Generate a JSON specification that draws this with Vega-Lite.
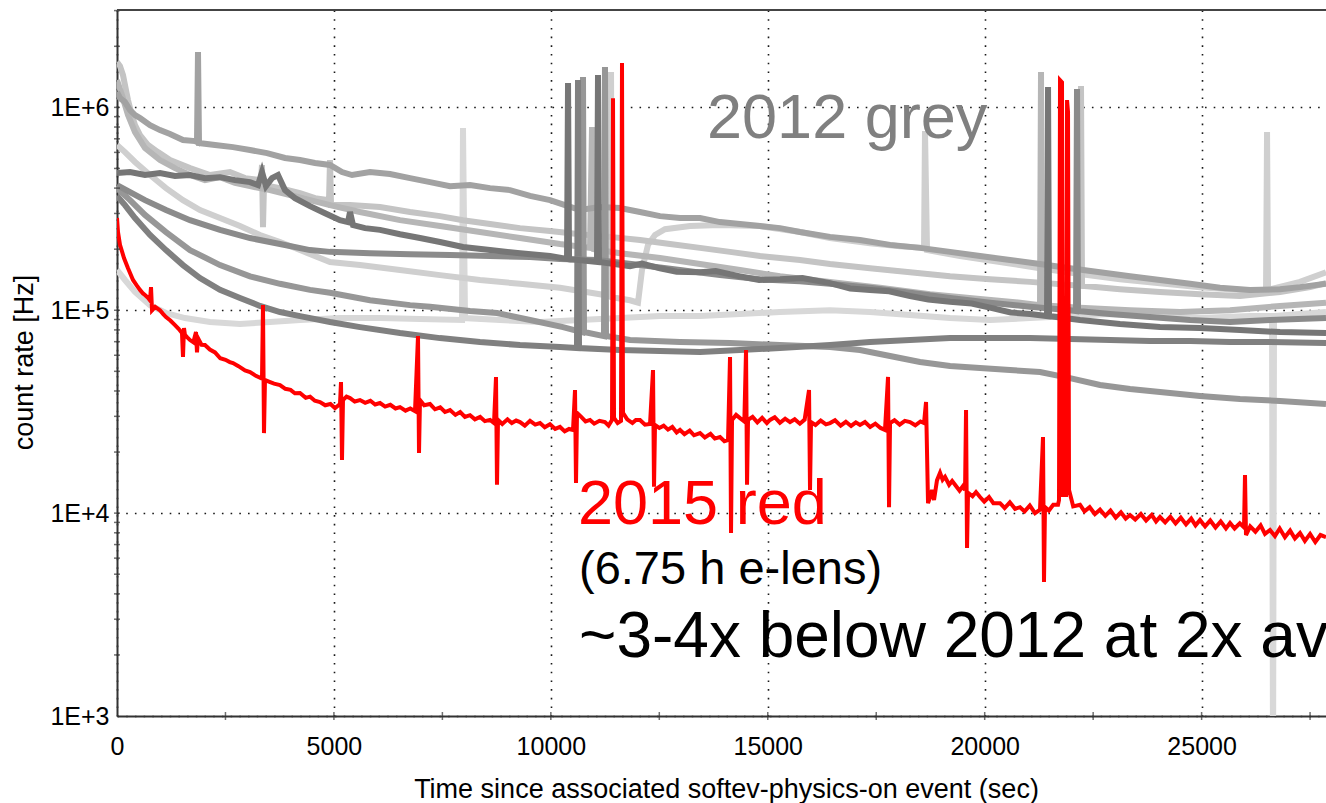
{
  "$schema": "https://vega.github.io/schema/vega-lite/v6.json",
  "width": 1209,
  "height": 706,
  "autosize": {"type": "none"},
  "padding": {"left": 117, "top": 10, "right": 0, "bottom": 87},
  "background": "white",
  "config": {
    "view": {"stroke": null},
    "font": "Liberation Sans",
    "axis": {
      "labelFont": "Liberation Sans",
      "titleFont": "Liberation Sans",
      "labelColor": "#000",
      "titleColor": "#000",
      "titleFontWeight": "normal",
      "domainColor": "#333",
      "domainWidth": 2,
      "ticks": false,
      "grid": true,
      "gridColor": "#000",
      "gridDash": [1.6, 7.1],
      "gridWidth": 1.6,
      "gridOpacity": 0.9,
      "labelFlush": false,
      "labelOverlap": false,
      "labelBound": false
    }
  },
  "datasets": {
    "grey": [
      {"k":"F","s":0,"hz":158000},{"k":"F","s":184,"hz":141000},{"k":"F","s":415,"hz":123000},{"k":"F","s":761,"hz":106000},{"k":"F","s":1129,"hz":96900},{"k":"F","s":1567,"hz":91500},{"k":"F","s":2144,"hz":87500},{"k":"F","s":2835,"hz":85500},{"k":"F","s":3527,"hz":87500},{"k":"F","s":4218,"hz":89500},{"k":"F","s":5140,"hz":91500},{"k":"F","s":6062,"hz":91500},{"k":"F","s":6984,"hz":90500},{"k":"F","s":7952,"hz":89500},{"k":"F","s":7975,"hz":791000},{"k":"F","s":8021,"hz":91500},{"k":"F","s":8828,"hz":89500},{"k":"F","s":9750,"hz":87500},{"k":"F","s":10672,"hz":89500},{"k":"F","s":11594,"hz":91500},{"k":"F","s":12516,"hz":93600},{"k":"F","s":13438,"hz":93600},{"k":"F","s":14361,"hz":95800},{"k":"F","s":15282,"hz":98000},{"k":"F","s":16435,"hz":100000},{"k":"F","s":17357,"hz":98000},{"k":"F","s":18279,"hz":94700},{"k":"F","s":19201,"hz":91500},{"k":"F","s":20123,"hz":89500},{"k":"F","s":21045,"hz":91500},{"k":"F","s":21967,"hz":93600},{"k":"F","s":22889,"hz":95800},{"k":"F","s":23811,"hz":93600},{"k":"F","s":24963,"hz":91500},{"k":"F","s":26116,"hz":93600},{"k":"F","s":26623,"hz":93600},{"k":"F","s":26646,"hz":500},{"k":"F","s":26669,"hz":93600},{"k":"F","s":27268,"hz":95800},{"k":"F","s":27867,"hz":98000},
      {"k":"R","s":0,"hz":652000},{"k":"R","s":184,"hz":602000},{"k":"R","s":415,"hz":538000},{"k":"R","s":761,"hz":464000},{"k":"R","s":1129,"hz":400000},{"k":"R","s":1521,"hz":349000},{"k":"R","s":1913,"hz":312000},{"k":"R","s":2374,"hz":285000},{"k":"R","s":2835,"hz":260000},{"k":"R","s":3296,"hz":235000},{"k":"R","s":3757,"hz":217000},{"k":"R","s":4218,"hz":198000},{"k":"R","s":4910,"hz":173000},{"k":"R","s":5601,"hz":167000},{"k":"R","s":6523,"hz":158000},{"k":"R","s":7445,"hz":149000},{"k":"R","s":8367,"hz":141000},{"k":"R","s":9289,"hz":135000},{"k":"R","s":10211,"hz":129000},{"k":"R","s":11133,"hz":120000},{"k":"R","s":11364,"hz":117500},{"k":"R","s":11387,"hz":1493000},{"k":"R","s":11410,"hz":116000},{"k":"R","s":11825,"hz":112000},{"k":"R","s":12009,"hz":109000},{"k":"R","s":12101,"hz":158000},{"k":"R","s":12240,"hz":210000},{"k":"R","s":12401,"hz":235000},{"k":"R","s":12631,"hz":251000},{"k":"R","s":13208,"hz":260000},{"k":"R","s":13899,"hz":263000},{"k":"R","s":14821,"hz":260000},{"k":"R","s":15743,"hz":243000},{"k":"R","s":16435,"hz":227000},{"k":"R","s":17357,"hz":214000},{"k":"R","s":18048,"hz":207000},{"k":"R","s":18602,"hz":203000},{"k":"R","s":18624,"hz":764000},{"k":"R","s":18671,"hz":198000},{"k":"R","s":19431,"hz":185000},{"k":"R","s":20353,"hz":173000},{"k":"R","s":21275,"hz":161000},{"k":"R","s":22197,"hz":151000},{"k":"R","s":23119,"hz":142000},{"k":"R","s":24041,"hz":136000},{"k":"R","s":24963,"hz":130000},{"k":"R","s":25885,"hz":126000},{"k":"R","s":26485,"hz":126000},{"k":"R","s":26508,"hz":756000},{"k":"R","s":26531,"hz":126000},{"k":"R","s":27268,"hz":138000},{"k":"R","s":27867,"hz":154000},
      {"k":"B","s":0,"hz":1672000},{"k":"B","s":69,"hz":1598000},{"k":"B","s":138,"hz":1443000},{"k":"B","s":207,"hz":1217000},{"k":"B","s":254,"hz":1086000},{"k":"B","s":323,"hz":948000},{"k":"B","s":415,"hz":818000},{"k":"B","s":530,"hz":730000},{"k":"B","s":715,"hz":652000},{"k":"B","s":945,"hz":602000},{"k":"B","s":1222,"hz":550000},{"k":"B","s":1683,"hz":502000},{"k":"B","s":2144,"hz":464000},{"k":"B","s":2605,"hz":480000},{"k":"B","s":2951,"hz":448000},{"k":"B","s":3319,"hz":438000},{"k":"B","s":3342,"hz":520000},{"k":"B","s":3365,"hz":257000},{"k":"B","s":3388,"hz":414000},{"k":"B","s":3757,"hz":400000},{"k":"B","s":4218,"hz":378000},{"k":"B","s":4564,"hz":357000},{"k":"B","s":4887,"hz":349000},{"k":"B","s":4910,"hz":550000},{"k":"B","s":4933,"hz":330000},{"k":"B","s":5371,"hz":330000},{"k":"B","s":6062,"hz":323000},{"k":"B","s":6754,"hz":305000},{"k":"B","s":7445,"hz":291000},{"k":"B","s":7975,"hz":278000},{"k":"B","s":8598,"hz":266000},{"k":"B","s":9289,"hz":254000},{"k":"B","s":9981,"hz":246000},{"k":"B","s":10672,"hz":237000},{"k":"B","s":11364,"hz":230000},{"k":"B","s":12055,"hz":222000},{"k":"B","s":12747,"hz":212000},{"k":"B","s":13438,"hz":203000},{"k":"B","s":14130,"hz":194000},{"k":"B","s":14821,"hz":185000},{"k":"B","s":15743,"hz":177000},{"k":"B","s":16435,"hz":169000},{"k":"B","s":17357,"hz":161000},{"k":"B","s":18279,"hz":154000},{"k":"B","s":19201,"hz":147000},{"k":"B","s":20123,"hz":142000},{"k":"B","s":21045,"hz":138000},{"k":"B","s":22197,"hz":132000},{"k":"B","s":22220,"hz":1274000},{"k":"B","s":22243,"hz":132000},{"k":"B","s":23119,"hz":127000},{"k":"B","s":24041,"hz":123000},{"k":"B","s":24963,"hz":120000},{"k":"B","s":25885,"hz":117500},{"k":"B","s":26807,"hz":123000},{"k":"B","s":27499,"hz":130000},{"k":"B","s":27867,"hz":136000},
      {"k":"C","s":0,"hz":1363000},{"k":"C","s":115,"hz":1150000},{"k":"C","s":254,"hz":917000},{"k":"C","s":415,"hz":756000},{"k":"C","s":645,"hz":630000},{"k":"C","s":991,"hz":550000},{"k":"C","s":1337,"hz":502000},{"k":"C","s":1683,"hz":464000},{"k":"C","s":2028,"hz":438000},{"k":"C","s":2374,"hz":453000},{"k":"C","s":2720,"hz":424000},{"k":"C","s":3066,"hz":409000},{"k":"C","s":3527,"hz":391000},{"k":"C","s":3988,"hz":370000},{"k":"C","s":4449,"hz":349000},{"k":"C","s":4910,"hz":330000},{"k":"C","s":5601,"hz":305000},{"k":"C","s":6523,"hz":278000},{"k":"C","s":7445,"hz":260000},{"k":"C","s":8367,"hz":243000},{"k":"C","s":9289,"hz":227000},{"k":"C","s":10211,"hz":212000},{"k":"C","s":10903,"hz":203000},{"k":"C","s":10949,"hz":800000},{"k":"C","s":10995,"hz":200000},{"k":"C","s":11594,"hz":191000},{"k":"C","s":12516,"hz":181000},{"k":"C","s":13438,"hz":169000},{"k":"C","s":14361,"hz":158000},{"k":"C","s":15282,"hz":147000},{"k":"C","s":16435,"hz":138000},{"k":"C","s":17587,"hz":129000},{"k":"C","s":18740,"hz":120000},{"k":"C","s":19892,"hz":113600},{"k":"C","s":20814,"hz":109000},{"k":"C","s":21275,"hz":106000},{"k":"C","s":21298,"hz":1493000},{"k":"C","s":21321,"hz":106000},{"k":"C","s":22197,"hz":103000},{"k":"C","s":23350,"hz":100000},{"k":"C","s":24502,"hz":98000},{"k":"C","s":25655,"hz":100000},{"k":"C","s":26807,"hz":105000},{"k":"C","s":27867,"hz":109000},
      {"k":"A","s":0,"hz":1190000},{"k":"A","s":69,"hz":1111000},{"k":"A","s":184,"hz":1062000},{"k":"A","s":300,"hz":970000},{"k":"A","s":415,"hz":917000},{"k":"A","s":530,"hz":886000},{"k":"A","s":761,"hz":818000},{"k":"A","s":991,"hz":773000},{"k":"A","s":1222,"hz":739000},{"k":"A","s":1521,"hz":690000},{"k":"A","s":1798,"hz":682000},{"k":"A","s":1844,"hz":675000},{"k":"A","s":1867,"hz":1873000},{"k":"A","s":1890,"hz":667000},{"k":"A","s":2259,"hz":652000},{"k":"A","s":2674,"hz":637000},{"k":"A","s":3066,"hz":616000},{"k":"A","s":3458,"hz":595000},{"k":"A","s":3872,"hz":563000},{"k":"A","s":4218,"hz":550000},{"k":"A","s":4564,"hz":532000},{"k":"A","s":4910,"hz":520000},{"k":"A","s":5186,"hz":480000},{"k":"A","s":5417,"hz":464000},{"k":"A","s":5832,"hz":480000},{"k":"A","s":6293,"hz":469000},{"k":"A","s":6754,"hz":448000},{"k":"A","s":7215,"hz":428000},{"k":"A","s":7676,"hz":409000},{"k":"A","s":8137,"hz":414000},{"k":"A","s":8598,"hz":400000},{"k":"A","s":9059,"hz":391000},{"k":"A","s":9520,"hz":366000},{"k":"A","s":9981,"hz":349000},{"k":"A","s":10327,"hz":330000},{"k":"A","s":10672,"hz":312000},{"k":"A","s":11133,"hz":323000},{"k":"A","s":11594,"hz":319000},{"k":"A","s":12055,"hz":305000},{"k":"A","s":12516,"hz":291000},{"k":"A","s":12977,"hz":285000},{"k":"A","s":13438,"hz":285000},{"k":"A","s":13899,"hz":272000},{"k":"A","s":14361,"hz":266000},{"k":"A","s":14821,"hz":260000},{"k":"A","s":15282,"hz":254000},{"k":"A","s":15743,"hz":243000},{"k":"A","s":16435,"hz":230000},{"k":"A","s":17126,"hz":222000},{"k":"A","s":17818,"hz":210000},{"k":"A","s":18509,"hz":203000},{"k":"A","s":19201,"hz":194000},{"k":"A","s":19892,"hz":185000},{"k":"A","s":20584,"hz":177000},{"k":"A","s":21275,"hz":169000},{"k":"A","s":21967,"hz":161000},{"k":"A","s":22658,"hz":154000},{"k":"A","s":23350,"hz":147000},{"k":"A","s":24041,"hz":141000},{"k":"A","s":24733,"hz":135000},{"k":"A","s":25424,"hz":129000},{"k":"A","s":26116,"hz":126000},{"k":"A","s":26807,"hz":127000},{"k":"A","s":27268,"hz":130000},{"k":"A","s":27867,"hz":135000},
      {"k":"L","s":0,"hz":400000},{"k":"L","s":300,"hz":349000},{"k":"L","s":645,"hz":295000},{"k":"L","s":1129,"hz":243000},{"k":"L","s":1683,"hz":198000},{"k":"L","s":2374,"hz":167000},{"k":"L","s":3066,"hz":147000},{"k":"L","s":3757,"hz":135000},{"k":"L","s":4449,"hz":126000},{"k":"L","s":4910,"hz":122000},{"k":"L","s":5832,"hz":112000},{"k":"L","s":6754,"hz":106000},{"k":"L","s":7215,"hz":104000},{"k":"L","s":8137,"hz":99100},{"k":"L","s":8759,"hz":96900},{"k":"L","s":9520,"hz":89500},{"k":"L","s":10280,"hz":82600},{"k":"L","s":10718,"hz":78100},{"k":"L","s":10741,"hz":1410000},{"k":"L","s":10764,"hz":78100},{"k":"L","s":11225,"hz":74600},{"k":"L","s":11248,"hz":1580000},{"k":"L","s":11271,"hz":74600},{"k":"L","s":11825,"hz":71300},{"k":"L","s":12977,"hz":69700},{"k":"L","s":14130,"hz":68900},{"k":"L","s":15282,"hz":67400},{"k":"L","s":16435,"hz":65900},{"k":"L","s":17126,"hz":63700},{"k":"L","s":17818,"hz":59500},{"k":"L","s":18509,"hz":55600},{"k":"L","s":19201,"hz":53100},{"k":"L","s":19892,"hz":51900},{"k":"L","s":20584,"hz":50700},{"k":"L","s":21275,"hz":49600},{"k":"L","s":21967,"hz":46300},{"k":"L","s":22658,"hz":42800},{"k":"L","s":23350,"hz":40900},{"k":"L","s":24041,"hz":39500},{"k":"L","s":24963,"hz":37800},{"k":"L","s":25885,"hz":36500},{"k":"L","s":26807,"hz":35700},{"k":"L","s":27867,"hz":34500},
      {"k":"G","s":0,"hz":366000},{"k":"G","s":184,"hz":330000},{"k":"G","s":415,"hz":285000},{"k":"G","s":761,"hz":235000},{"k":"G","s":1129,"hz":198000},{"k":"G","s":1521,"hz":167000},{"k":"G","s":1913,"hz":144000},{"k":"G","s":2374,"hz":126000},{"k":"G","s":2835,"hz":115000},{"k":"G","s":3296,"hz":105000},{"k":"G","s":3757,"hz":98000},{"k":"G","s":4218,"hz":93600},{"k":"G","s":4910,"hz":87500},{"k":"G","s":5601,"hz":82600},{"k":"G","s":6523,"hz":77200},{"k":"G","s":7445,"hz":72900},{"k":"G","s":8367,"hz":69700},{"k":"G","s":9289,"hz":67400},{"k":"G","s":10211,"hz":65900},{"k":"G","s":10603,"hz":65100},{"k":"G","s":10626,"hz":1363000},{"k":"G","s":10649,"hz":65100},{"k":"G","s":11594,"hz":63700},{"k":"G","s":12516,"hz":63000},{"k":"G","s":13438,"hz":62200},{"k":"G","s":14361,"hz":63700},{"k":"G","s":15282,"hz":65100},{"k":"G","s":16435,"hz":67400},{"k":"G","s":17357,"hz":69700},{"k":"G","s":18279,"hz":71300},{"k":"G","s":19201,"hz":72900},{"k":"G","s":20123,"hz":72900},{"k":"G","s":21045,"hz":72900},{"k":"G","s":21967,"hz":72100},{"k":"G","s":22889,"hz":71300},{"k":"G","s":23811,"hz":70500},{"k":"G","s":24733,"hz":70500},{"k":"G","s":25655,"hz":69700},{"k":"G","s":26577,"hz":69700},{"k":"G","s":27867,"hz":68900},
      {"k":"E","s":0,"hz":414000},{"k":"E","s":300,"hz":382000},{"k":"E","s":645,"hz":349000},{"k":"E","s":1129,"hz":312000},{"k":"E","s":1683,"hz":278000},{"k":"E","s":2374,"hz":249000},{"k":"E","s":3066,"hz":227000},{"k":"E","s":3757,"hz":212000},{"k":"E","s":4449,"hz":198000},{"k":"E","s":4910,"hz":194000},{"k":"E","s":5832,"hz":191000},{"k":"E","s":6754,"hz":189000},{"k":"E","s":7676,"hz":187000},{"k":"E","s":8598,"hz":185000},{"k":"E","s":9520,"hz":183000},{"k":"E","s":10211,"hz":179000},{"k":"E","s":11064,"hz":177000},{"k":"E","s":12055,"hz":167000},{"k":"E","s":12977,"hz":158000},{"k":"E","s":13899,"hz":149000},{"k":"E","s":14821,"hz":142000},{"k":"E","s":15743,"hz":139000},{"k":"E","s":16435,"hz":135000},{"k":"E","s":17357,"hz":129000},{"k":"E","s":18279,"hz":122000},{"k":"E","s":19201,"hz":115000},{"k":"E","s":20123,"hz":109000},{"k":"E","s":21045,"hz":104000},{"k":"E","s":21967,"hz":100000},{"k":"E","s":22105,"hz":99100},{"k":"E","s":22128,"hz":1231000},{"k":"E","s":22151,"hz":99100},{"k":"E","s":22889,"hz":95800},{"k":"E","s":23811,"hz":92600},{"k":"E","s":24733,"hz":89500},{"k":"E","s":25655,"hz":87500},{"k":"E","s":26577,"hz":89500},{"k":"E","s":27867,"hz":91500},
      {"k":"D","s":0,"hz":475000},{"k":"D","s":300,"hz":480000},{"k":"D","s":645,"hz":464000},{"k":"D","s":991,"hz":475000},{"k":"D","s":1337,"hz":459000},{"k":"D","s":1683,"hz":464000},{"k":"D","s":2028,"hz":448000},{"k":"D","s":2374,"hz":453000},{"k":"D","s":2720,"hz":438000},{"k":"D","s":3066,"hz":428000},{"k":"D","s":3250,"hz":414000},{"k":"D","s":3342,"hz":480000},{"k":"D","s":3434,"hz":409000},{"k":"D","s":3573,"hz":448000},{"k":"D","s":3711,"hz":464000},{"k":"D","s":3872,"hz":391000},{"k":"D","s":4103,"hz":357000},{"k":"D","s":4449,"hz":326000},{"k":"D","s":4795,"hz":301000},{"k":"D","s":5140,"hz":278000},{"k":"D","s":5325,"hz":272000},{"k":"D","s":5371,"hz":305000},{"k":"D","s":5440,"hz":263000},{"k":"D","s":5717,"hz":254000},{"k":"D","s":6062,"hz":249000},{"k":"D","s":6523,"hz":237000},{"k":"D","s":6984,"hz":227000},{"k":"D","s":7445,"hz":217000},{"k":"D","s":7975,"hz":205000},{"k":"D","s":8598,"hz":198000},{"k":"D","s":9289,"hz":191000},{"k":"D","s":9981,"hz":185000},{"k":"D","s":10373,"hz":179000},{"k":"D","s":10396,"hz":1318000},{"k":"D","s":10419,"hz":179000},{"k":"D","s":11064,"hz":173000},{"k":"D","s":11087,"hz":1443000},{"k":"D","s":11110,"hz":173000},{"k":"D","s":11825,"hz":165000},{"k":"D","s":12100,"hz":170000},{"k":"D","s":12516,"hz":161000},{"k":"D","s":12900,"hz":155000},{"k":"D","s":13438,"hz":154000},{"k":"D","s":13800,"hz":156000},{"k":"D","s":14361,"hz":147000},{"k":"D","s":14800,"hz":141000},{"k":"D","s":15282,"hz":142000},{"k":"D","s":15800,"hz":144000},{"k":"D","s":16435,"hz":136000},{"k":"D","s":16900,"hz":128000},{"k":"D","s":17357,"hz":126000},{"k":"D","s":17800,"hz":124000},{"k":"D","s":18279,"hz":117500},{"k":"D","s":18700,"hz":113000},{"k":"D","s":19201,"hz":110000},{"k":"D","s":19700,"hz":108000},{"k":"D","s":20123,"hz":103000},{"k":"D","s":20600,"hz":97500},{"k":"D","s":21045,"hz":95800},{"k":"D","s":21437,"hz":93600},{"k":"D","s":21460,"hz":1259000},{"k":"D","s":21483,"hz":93600},{"k":"D","s":22197,"hz":89500},{"k":"D","s":23119,"hz":85500},{"k":"D","s":24041,"hz":82600},{"k":"D","s":24963,"hz":81700},{"k":"D","s":25885,"hz":79900},{"k":"D","s":26807,"hz":78100},{"k":"D","s":27867,"hz":77200}
    ],
    "red": [
      {"s":0,"hz":285000},{"s":23,"hz":243000},{"s":69,"hz":210000},{"s":161,"hz":181000},{"s":254,"hz":161000},{"s":369,"hz":141000},{"s":450,"hz":133000},{"s":530,"hz":126000},{"s":600,"hz":121000},{"s":645,"hz":119000},{"s":720,"hz":115000},{"s":761,"hz":112000},{"s":784,"hz":130000},{"s":807,"hz":100000},{"s":880,"hz":104000},{"s":991,"hz":100000},{"s":1060,"hz":96000},{"s":1129,"hz":92600},{"s":1230,"hz":89000},{"s":1337,"hz":84500},{"s":1420,"hz":81000},{"s":1498,"hz":77200},{"s":1521,"hz":58800},{"s":1544,"hz":81700},{"s":1567,"hz":75500},{"s":1620,"hz":73500},{"s":1683,"hz":71300},{"s":1760,"hz":69500},{"s":1821,"hz":78100},{"s":1844,"hz":62000},{"s":1867,"hz":72900},{"s":1950,"hz":67500},{"s":2028,"hz":67400},{"s":2140,"hz":64000},{"s":2259,"hz":62000},{"s":2380,"hz":58000},{"s":2500,"hz":57000},{"s":2600,"hz":55500},{"s":2674,"hz":54900},{"s":2800,"hz":53000},{"s":2950,"hz":50500},{"s":3066,"hz":49600},{"s":3200,"hz":47500},{"s":3342,"hz":46000},{"s":3365,"hz":106000},{"s":3388,"hz":24800},{"s":3411,"hz":45300},{"s":3500,"hz":44500},{"s":3620,"hz":43500},{"s":3757,"hz":42800},{"s":3880,"hz":41000},{"s":4000,"hz":40500},{"s":4100,"hz":39000},{"s":4218,"hz":39100},{"s":4350,"hz":37000},{"s":4450,"hz":37500},{"s":4560,"hz":35800},{"s":4679,"hz":35300},{"s":4800,"hz":34000},{"s":4920,"hz":34500},{"s":5025,"hz":32900},{"s":5140,"hz":34500},{"s":5163,"hz":44300},{"s":5186,"hz":18300},{"s":5209,"hz":36100},{"s":5290,"hz":37500},{"s":5371,"hz":36900},{"s":5480,"hz":35500},{"s":5601,"hz":36100},{"s":5720,"hz":35000},{"s":5840,"hz":35800},{"s":5950,"hz":34300},{"s":6062,"hz":34900},{"s":6180,"hz":33500},{"s":6300,"hz":34200},{"s":6420,"hz":32800},{"s":6523,"hz":33300},{"s":6650,"hz":32000},{"s":6760,"hz":32800},{"s":6869,"hz":31800},{"s":6938,"hz":74600},{"s":6961,"hz":19800},{"s":6984,"hz":36100},{"s":7080,"hz":34000},{"s":7215,"hz":34500},{"s":7330,"hz":32500},{"s":7450,"hz":33200},{"s":7560,"hz":31500},{"s":7676,"hz":32200},{"s":7800,"hz":30500},{"s":7910,"hz":31500},{"s":8020,"hz":29800},{"s":8137,"hz":30400},{"s":8250,"hz":29000},{"s":8370,"hz":29800},{"s":8480,"hz":28400},{"s":8598,"hz":28800},{"s":8690,"hz":27800},{"s":8736,"hz":46900},{"s":8759,"hz":13800},{"s":8782,"hz":28800},{"s":8880,"hz":27500},{"s":9000,"hz":29000},{"s":9100,"hz":27800},{"s":9200,"hz":28600},{"s":9289,"hz":28100},{"s":9400,"hz":27000},{"s":9520,"hz":28500},{"s":9640,"hz":27300},{"s":9750,"hz":27800},{"s":9860,"hz":26500},{"s":9980,"hz":27400},{"s":10100,"hz":26000},{"s":10211,"hz":26600},{"s":10320,"hz":25300},{"s":10420,"hz":26000},{"s":10511,"hz":25700},{"s":10557,"hz":40400},{"s":10580,"hz":14100},{"s":10603,"hz":31200},{"s":10700,"hz":29800},{"s":10800,"hz":28300},{"s":10903,"hz":28800},{"s":11000,"hz":27600},{"s":11120,"hz":28500},{"s":11248,"hz":28100},{"s":11330,"hz":27000},{"s":11410,"hz":28800},{"s":11433,"hz":1110000},{"s":11456,"hz":29500},{"s":11540,"hz":27800},{"s":11617,"hz":28500},{"s":11640,"hz":1654000},{"s":11663,"hz":31200},{"s":11760,"hz":29000},{"s":11880,"hz":27800},{"s":11960,"hz":28800},{"s":12055,"hz":28800},{"s":12170,"hz":27300},{"s":12286,"hz":27500},{"s":12355,"hz":50700},{"s":12378,"hz":13500},{"s":12401,"hz":27200},{"s":12500,"hz":26300},{"s":12600,"hz":27000},{"s":12700,"hz":25800},{"s":12800,"hz":26600},{"s":12900,"hz":25000},{"s":12977,"hz":25700},{"s":13080,"hz":24500},{"s":13200,"hz":25500},{"s":13300,"hz":24200},{"s":13438,"hz":24800},{"s":13550,"hz":23600},{"s":13680,"hz":24600},{"s":13780,"hz":23300},{"s":13899,"hz":23700},{"s":14000,"hz":22600},{"s":14084,"hz":22900},{"s":14130,"hz":58800},{"s":14153,"hz":7980},{"s":14176,"hz":28800},{"s":14270,"hz":30500},{"s":14361,"hz":29400},{"s":14460,"hz":28300},{"s":14499,"hz":63700},{"s":14522,"hz":13800},{"s":14545,"hz":28800},{"s":14650,"hz":29800},{"s":14760,"hz":28000},{"s":14870,"hz":29500},{"s":14980,"hz":27800},{"s":15052,"hz":28800},{"s":15160,"hz":29700},{"s":15280,"hz":27900},{"s":15400,"hz":29200},{"s":15513,"hz":28100},{"s":15620,"hz":29000},{"s":15740,"hz":27600},{"s":15850,"hz":28900},{"s":15951,"hz":40400},{"s":15974,"hz":13000},{"s":15997,"hz":28100},{"s":16100,"hz":27200},{"s":16220,"hz":28600},{"s":16340,"hz":27400},{"s":16435,"hz":27800},{"s":16550,"hz":28700},{"s":16680,"hz":27000},{"s":16800,"hz":28200},{"s":16920,"hz":26900},{"s":17030,"hz":28000},{"s":17126,"hz":27200},{"s":17240,"hz":28100},{"s":17360,"hz":26600},{"s":17480,"hz":27600},{"s":17600,"hz":26300},{"s":17702,"hz":25700},{"s":17772,"hz":46900},{"s":17795,"hz":10700},{"s":17818,"hz":27800},{"s":17920,"hz":28700},{"s":18040,"hz":27300},{"s":18160,"hz":28500},{"s":18279,"hz":28100},{"s":18400,"hz":27100},{"s":18520,"hz":28300},{"s":18602,"hz":27800},{"s":18648,"hz":35300},{"s":18694,"hz":11200},{"s":18740,"hz":12000},{"s":18786,"hz":13000},{"s":18832,"hz":11600},{"s":18900,"hz":14500},{"s":18971,"hz":15800},{"s":19030,"hz":14600},{"s":19086,"hz":15100},{"s":19180,"hz":13800},{"s":19250,"hz":14400},{"s":19317,"hz":13800},{"s":19420,"hz":12900},{"s":19500,"hz":13600},{"s":19547,"hz":13000},{"s":19570,"hz":32200},{"s":19593,"hz":6730},{"s":19616,"hz":12600},{"s":19720,"hz":12100},{"s":19800,"hz":12700},{"s":19892,"hz":12000},{"s":19990,"hz":11400},{"s":20100,"hz":12000},{"s":20200,"hz":11200},{"s":20353,"hz":11200},{"s":20460,"hz":10600},{"s":20580,"hz":11300},{"s":20700,"hz":10500},{"s":20814,"hz":10700},{"s":20920,"hz":10200},{"s":21040,"hz":10900},{"s":21160,"hz":10000},{"s":21275,"hz":10400},{"s":21344,"hz":23700},{"s":21367,"hz":4580},{"s":21390,"hz":10700},{"s":21480,"hz":10300},{"s":21580,"hz":11000},{"s":21690,"hz":11000},{"s":21713,"hz":11600},{"s":21736,"hz":1363000},{"s":21782,"hz":1330000},{"s":21805,"hz":12300},{"s":21875,"hz":12300},{"s":21898,"hz":1086000},{"s":21921,"hz":948000},{"s":21944,"hz":13000},{"s":22040,"hz":10800},{"s":22197,"hz":11000},{"s":22300,"hz":10200},{"s":22420,"hz":10700},{"s":22540,"hz":9900},{"s":22658,"hz":10400},{"s":22780,"hz":9700},{"s":22900,"hz":10300},{"s":23020,"hz":9500},{"s":23140,"hz":10100},{"s":23250,"hz":9400},{"s":23350,"hz":9790},{"s":23470,"hz":9300},{"s":23600,"hz":9900},{"s":23720,"hz":9200},{"s":23850,"hz":9800},{"s":23950,"hz":9100},{"s":24041,"hz":9570},{"s":24160,"hz":9000},{"s":24280,"hz":9600},{"s":24400,"hz":8900},{"s":24520,"hz":9500},{"s":24640,"hz":8800},{"s":24760,"hz":9400},{"s":24860,"hz":8700},{"s":24963,"hz":9250},{"s":25080,"hz":8600},{"s":25200,"hz":9200},{"s":25320,"hz":8500},{"s":25440,"hz":9100},{"s":25560,"hz":8400},{"s":25655,"hz":8940},{"s":25760,"hz":8400},{"s":25880,"hz":8900},{"s":25977,"hz":8500},{"s":26000,"hz":15400},{"s":26023,"hz":7800},{"s":26120,"hz":8600},{"s":26240,"hz":8100},{"s":26360,"hz":8700},{"s":26460,"hz":7900},{"s":26577,"hz":8260},{"s":26690,"hz":7700},{"s":26800,"hz":8400},{"s":26920,"hz":7600},{"s":27040,"hz":8200},{"s":27150,"hz":7500},{"s":27268,"hz":7980},{"s":27380,"hz":7300},{"s":27500,"hz":7900},{"s":27620,"hz":7200},{"s":27740,"hz":7800},{"s":27867,"hz":7620}
    ],
    "xticks": [
      {"s":2500},{"s":5000},{"s":7500},{"s":10000},{"s":12500},{"s":15000},{"s":17500},{"s":20000},{"s":22500},{"s":25000},{"s":27500}
    ],
    "yticks": [
      {"hz":2000},{"hz":3000},{"hz":4000},{"hz":5000},{"hz":6000},{"hz":7000},{"hz":8000},{"hz":9000},{"hz":10000},
      {"hz":20000},{"hz":30000},{"hz":40000},{"hz":50000},{"hz":60000},{"hz":70000},{"hz":80000},{"hz":90000},{"hz":100000},
      {"hz":200000},{"hz":300000},{"hz":400000},{"hz":500000},{"hz":600000},{"hz":700000},{"hz":800000},{"hz":900000},{"hz":1000000},
      {"hz":2000000},{"hz":3000000}
    ],
    "one": [{}]
  },
  "layer": [
    {
      "data": {"name": "grey"},
      "mark": {"type": "line", "strokeWidth": 6, "clip": true, "strokeJoin": "miter", "strokeCap": "butt"},
      "encoding": {
        "x": {
          "field": "s", "type": "quantitative",
          "scale": {"domain": [0, 27867], "nice": false, "zero": false},
          "axis": {
            "title": "Time since associated softev-physics-on event (sec)",
            "values": [0, 5000, 10000, 15000, 20000, 25000],
            "format": "d",
            "labelFontSize": 25,
            "labelPadding": 18,
            "titleFontSize": 27,
            "titleBaseline": "alphabetic",
            "titleAlign": "center",
            "titleX": 609,
            "titleY": 81
          }
        },
        "y": {
          "field": "hz", "type": "quantitative",
          "scale": {"type": "log", "domain": [1000, 3020000], "nice": false},
          "axis": {
            "title": "count rate [Hz]",
            "values": [1000, 10000, 100000, 1000000],
            "labelExpr": "'1E+' + round(log(datum.value) / LN10)",
            "labelFontSize": 25,
            "labelPadding": 8,
            "titleFontSize": 27,
            "titleBaseline": "alphabetic",
            "titleAlign": "center",
            "titleAngle": 270,
            "titleX": -85,
            "titleY": 352
          }
        },
        "color": {
          "field": "k", "type": "nominal", "legend": null,
          "scale": {
            "domain": ["F", "R", "B", "C", "A", "L", "G", "E", "D"],
            "range": ["#d8d8d8", "#cfcfcf", "#c4c4c4", "#b6b6b6", "#a2a2a2", "#979797", "#808080", "#8b8b8b", "#767676"]
          }
        }
      }
    },
    {
      "data": {"name": "red"},
      "mark": {"type": "line", "color": "#ff0000", "strokeWidth": 4, "clip": true},
      "encoding": {
        "x": {"field": "s", "type": "quantitative", "scale": {"domain": [0, 27867], "nice": false, "zero": false}},
        "y": {"field": "hz", "type": "quantitative", "scale": {"type": "log", "domain": [1000, 3020000], "nice": false}}
      }
    },
    {
      "data": {"name": "xticks"},
      "mark": {"type": "tick", "orient": "vertical", "size": 8, "thickness": 1.5, "color": "#333"},
      "encoding": {
        "x": {"field": "s", "type": "quantitative", "scale": {"domain": [0, 27867], "nice": false, "zero": false}},
        "y": {"datum": 1000, "type": "quantitative", "scale": {"type": "log", "domain": [1000, 3020000], "nice": false}}
      }
    },
    {
      "data": {"name": "yticks"},
      "mark": {"type": "tick", "orient": "horizontal", "size": 6, "thickness": 1.5, "color": "#333"},
      "encoding": {
        "x": {"datum": 0, "type": "quantitative", "scale": {"domain": [0, 27867], "nice": false, "zero": false}},
        "y": {"field": "hz", "type": "quantitative", "scale": {"type": "log", "domain": [1000, 3020000], "nice": false}}
      }
    },
    {
      "data": {"name": "one"},
      "mark": {"type": "rule", "color": "#444", "strokeWidth": 2},
      "encoding": {
        "y": {"datum": 3020000, "type": "quantitative", "scale": {"type": "log", "domain": [1000, 3020000], "nice": false}}
      }
    },
    {
      "data": {"name": "one"},
      "mark": {"type": "text", "text": "2012 grey", "font": "Liberation Sans", "fontSize": 63, "color": "#808080", "align": "left", "baseline": "alphabetic"},
      "encoding": {
        "x": {"datum": 13600, "type": "quantitative"},
        "y": {"datum": 706000, "type": "quantitative"}
      }
    },
    {
      "data": {"name": "one"},
      "mark": {"type": "text", "text": "2015 red", "font": "Liberation Sans", "fontSize": 63, "color": "#ff0000", "align": "left", "baseline": "alphabetic"},
      "encoding": {
        "x": {"datum": 10626, "type": "quantitative"},
        "y": {"datum": 8836, "type": "quantitative"}
      }
    },
    {
      "data": {"name": "one"},
      "mark": {"type": "text", "text": "(6.75 h e-lens)", "font": "Liberation Sans", "fontSize": 47, "color": "#000000", "align": "left", "baseline": "alphabetic"},
      "encoding": {
        "x": {"datum": 10649, "type": "quantitative"},
        "y": {"datum": 4472, "type": "quantitative"}
      }
    },
    {
      "data": {"name": "one"},
      "mark": {"type": "text", "text": "~3-4x below 2012 at 2x av", "font": "Liberation Sans", "fontSize": 64, "color": "#000000", "align": "left", "baseline": "alphabetic"},
      "encoding": {
        "x": {"datum": 10649, "type": "quantitative"},
        "y": {"datum": 1954, "type": "quantitative"}
      }
    }
  ]
}
